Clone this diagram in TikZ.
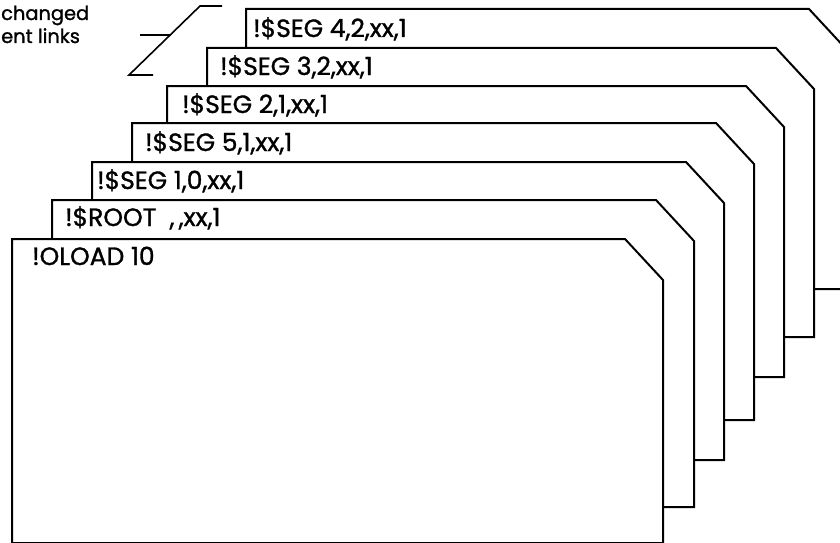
\documentclass[tikz,border=0pt]{standalone}
\usepackage{fontspec}
\setmainfont{Poppins}
\newfontfamily\cardfont{Poppins}[FakeBold=1.2]
\usepackage{tikz}
\usetikzlibrary{calc}

\begin{document}
\begin{tikzpicture}[
  x=1pt, y=-1pt,
  card/.style={draw, fill=white, line width=2pt, line join=miter},
  cardtext/.style={anchor=base west, inner sep=0pt, font=\cardfont\fontsize{25}{28}\selectfont},
  note/.style={anchor=base west, inner sep=0pt, align=left, font=\cardfont\fontsize{19.4}{23}\selectfont},
  brace/.style={draw, line width=1.6pt}
]
\useasboundingbox (0,0) rectangle (840,543);
\clip (0,0) rectangle (840,543);
\def\CX{38}
\def\CY{41}
% cards, back to front: left/top/right/bottom
\foreach \l/\t/\r/\b in {246/9/847/289, 207/48/814/337, 167/86/784/377,
                         132/123/754/420, 92/162/724/460, 52/200/694/507, 12/239/663/543}
  \draw[card] (\l,\b) -- (\l,\t) -- (\r-\CX,\t) -- (\r,\t+\CY) -- (\r,\b) -- cycle;

\node[cardtext] (seg42) at (253,37) {!\$SEG 4,2,xx,1};
\node[cardtext] (seg32) at (220,75) {!\$SEG 3,2,xx,1};
\node[cardtext] (seg21) at (182,113) {!\$SEG 2,1,xx,1};
\node[cardtext] (seg51) at (145,151) {!\$SEG 5,1,xx,1};
\node[cardtext] (seg10) at (97,189) {!\$SEG 1,0,xx,1};
\node[cardtext] (root) at (65,226) {!\$ROOT\ \ ,{}\,,xx,1};
\node[cardtext] (oload) at (32,265) {!OLOAD 10};

% label and its bracket
\node[note] (changed) at (1,20) {changed};
\node[note] (links) at (1,43) {ent links};
\coordinate (btop) at (200,6);
\coordinate (bbot) at (129,75);
\draw[brace] (222,6) -- (btop) -- (bbot) -- (153,75);
\draw[brace] (140,35) -- ($(btop)!0.42!(bbot)$);
\end{tikzpicture}
\end{document}
